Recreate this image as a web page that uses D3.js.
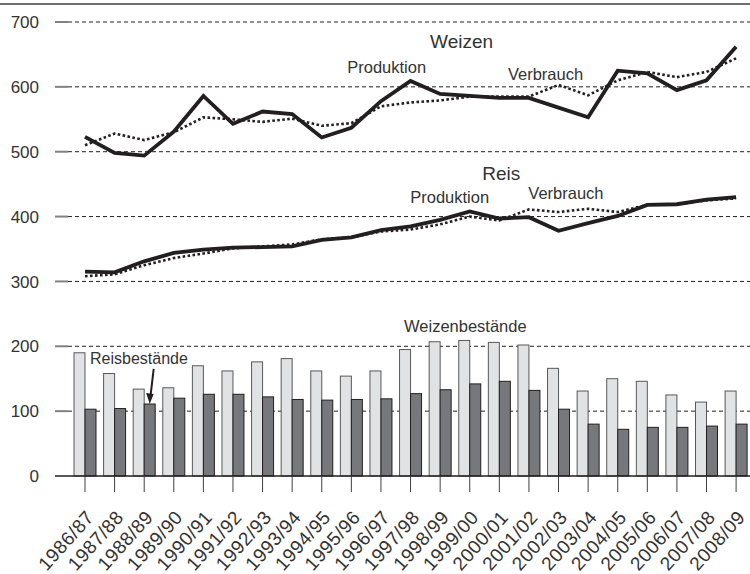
<!DOCTYPE html>
<html>
<head>
<meta charset="utf-8">
<script src="https://cdn.jsdelivr.net/npm/d3@7"></script>
<style>
  body { margin: 0; background: #fff; }
  text { font-family: "Liberation Sans", Arial, sans-serif; fill: #333; }
</style>
</head>
<body>
<div id="graph"></div>
<script>
const years = ["1986/87", "1987/88", "1988/89", "1989/90", "1990/91", "1991/92", "1992/93", "1993/94",
  "1994/95", "1995/96", "1996/97", "1997/98", "1998/99", "1999/00", "2000/01", "2001/02", "2002/03",
  "2003/04", "2004/05", "2005/06", "2006/07", "2007/08", "2008/09"];

const weizenProduktion = [523, 498, 494, 531, 586, 543, 562, 558, 522, 537, 578, 609, 589, 586, 583, 583, 568, 553, 625, 621, 595, 610, 662];
const weizenVerbrauch = [510, 528, 518, 530, 553, 550, 546, 551, 540, 544, 570, 576, 579, 585, 585, 585, 603, 587, 610, 623, 615, 623, 644];
const reisProduktion = [315, 314, 331, 344, 349, 352, 353, 354, 364, 368, 379, 385, 395, 408, 397, 399, 378, 390, 401, 418, 419, 426, 430];
const reisVerbrauch = [308, 311, 325, 336, 343, 351, 354, 357, 365, 368, 377, 380, 388, 400, 394, 411, 407, 412, 407, 418, 419, 425, 428];
const weizenBestaende = [190, 158, 134, 136, 170, 162, 176, 181, 162, 154, 162, 195, 207, 209, 206, 202, 166, 131, 150, 146, 125, 114, 131];
const reisBestaende = [103, 104, 111, 120, 126, 126, 122, 118, 117, 118, 119, 127, 133, 142, 146, 132, 103, 80, 72, 75, 75, 77, 80];

const yTicks = [0, 100, 200, 300, 400, 500, 600, 700];

// labels placed by (category index, value)
const labels = [
  { text: "Weizen", i: 11.66, v: 660, size: 19 },
  { text: "Produktion", i: 8.86, v: 622, size: 16.5 },
  { text: "Verbrauch", i: 14.29, v: 610, size: 16.5 },
  { text: "Reis", i: 13.42, v: 456, size: 19 },
  { text: "Produktion", i: 10.99, v: 421, size: 16.5 },
  { text: "Verbrauch", i: 14.98, v: 427, size: 16.5 },
  { text: "Weizenbestände", i: 10.78, v: 222, size: 16.5 },
  { text: "Reisbestände", i: 0.17, v: 173, size: 16 }
];

const fullwidth = 750;
const fullheight = 574;
const left = 55;

const svg = d3.select("#graph").
  append("svg").
  attr("width", fullwidth).
  attr("height", fullheight);

const xScale = d3.scaleBand().
  domain(years).
  range([70.2, 750.9]).
  padding(0);

const xc = d => xScale(d) + xScale.bandwidth() / 2;

const iScale = d3.scaleLinear().
  domain([0, years.length - 1]).
  range([xc(years[0]), xc(years[years.length - 1])]);

const yScale = d3.scaleLinear().
  domain([0, 700]).
  range([476, 22]);

const barW = 11;

// top rule
svg.append("line").
  attr("x1", 0).attr("x2", fullwidth).
  attr("y1", 4).attr("y2", 4).
  attr("stroke", "#6d6e71").attr("stroke-width", 2);

// grid lines
const grid = svg.append("g");
yTicks.filter(t => t > 0).forEach(t => {
  grid.append("line").
    attr("x1", left).attr("x2", 68).
    attr("y1", yScale(t)).attr("y2", yScale(t)).
    attr("stroke", "#808285").attr("stroke-width", 2);
  grid.append("line").
    attr("x1", 68).attr("x2", fullwidth).
    attr("y1", yScale(t)).attr("y2", yScale(t)).
    attr("stroke", "#231f20").attr("stroke-width", 1).
    attr("stroke-dasharray", "4,3");
});

// y axis labels
svg.append("g").selectAll("text").
  data(yTicks).
  enter().
  append("text").
  attr("x", 39).
  attr("y", d => yScale(d)).
  attr("dy", "0.36em").
  attr("text-anchor", "end").
  attr("font-size", 17).
  text(d => d);

// bars
svg.append("g").selectAll("rect").
  data(years).
  enter().
  append("rect").
  attr("x", d => xc(d) - barW).
  attr("y", (d, i) => yScale(weizenBestaende[i])).
  attr("width", barW).
  attr("height", (d, i) => yScale(0) - yScale(weizenBestaende[i])).
  attr("fill", "#e1e2e4").
  attr("stroke", "#58595b").
  attr("stroke-width", 1);

svg.append("g").selectAll("rect").
  data(years).
  enter().
  append("rect").
  attr("x", d => xc(d)).
  attr("y", (d, i) => yScale(reisBestaende[i])).
  attr("width", barW).
  attr("height", (d, i) => yScale(0) - yScale(reisBestaende[i])).
  attr("fill", "#77787b").
  attr("stroke", "#231f20").
  attr("stroke-width", 1);

// baseline
svg.append("line").
  attr("x1", left).attr("x2", fullwidth).
  attr("y1", yScale(0)).attr("y2", yScale(0)).
  attr("stroke", "#231f20").attr("stroke-width", 1.5);

// x axis ticks and labels
const xAxis = d3.axisBottom(xScale).
  tickSize(16).
  tickSizeOuter(0).
  tickFormat("");

svg.append("g").
  attr("transform", "translate(0," + yScale(0) + ")").
  call(xAxis).
  call(g => g.select(".domain").remove()).
  call(g => g.selectAll(".tick line").attr("stroke", "#414042"));

svg.append("g").selectAll("text").
  data(years).
  enter().
  append("text").
  attr("transform", d => "translate(" + (xc(d) + 10) + ",518) rotate(-48)").
  attr("text-anchor", "end").
  attr("font-size", 19).
  attr("letter-spacing", 0.5).
  text(d => d);

// lines
const line = d3.line().
  x((d, i) => xc(years[i])).
  y(d => yScale(d));

[weizenVerbrauch, reisVerbrauch].forEach(s => {
  svg.append("path").
    attr("d", line(s)).
    attr("fill", "none").
    attr("stroke", "#231f20").
    attr("stroke-width", 2.6).
    attr("stroke-dasharray", "2.6,2.4");
});

[weizenProduktion, reisProduktion].forEach(s => {
  svg.append("path").
    attr("d", line(s)).
    attr("fill", "none").
    attr("stroke", "#231f20").
    attr("stroke-width", 3.8).
    attr("stroke-linejoin", "miter");
});

// annotations
svg.append("g").selectAll("text").
  data(labels).
  enter().
  append("text").
  attr("x", d => iScale(d.i)).
  attr("y", d => yScale(d.v)).
  attr("font-size", d => d.size).
  text(d => d.text);

// arrow to Reisbestände bar
const ax = xc(years[2]) + barW / 2;
const ay = yScale(reisBestaende[2]);
svg.append("line").
  attr("x1", ax + 4).attr("y1", yScale(165)).
  attr("x2", ax + 0.8).attr("y2", ay - 8).
  attr("stroke", "#231f20").attr("stroke-width", 2);
svg.append("path").
  attr("d", "M" + ax + "," + ay + "L" + (ax - 3.5) + "," + (ay - 11) + "L" + (ax + 4) + "," + (ay - 10) + "Z").
  attr("fill", "#231f20");
</script>
</body>
</html>
